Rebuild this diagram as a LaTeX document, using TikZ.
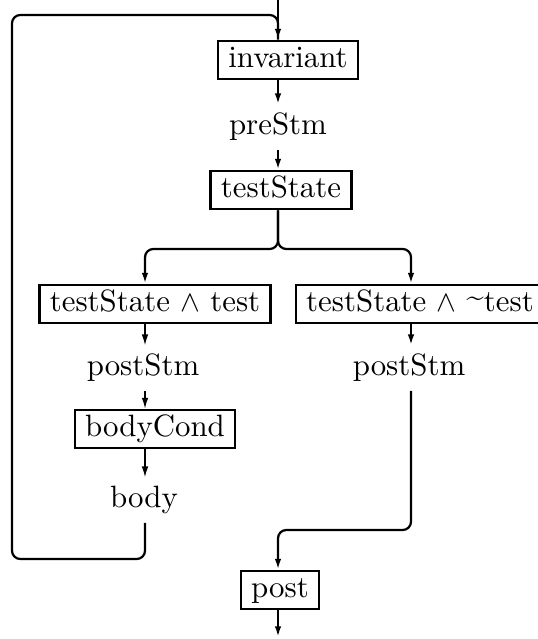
\documentclass[tikz,border=0pt]{standalone}
\usetikzlibrary{arrows.meta}
\tikzset{
  box/.style={draw,line width=0.8pt,inner xsep=3.5pt,inner ysep=2pt,
    font=\fontsize{10.4pt}{12pt}\selectfont,text height=7pt,text depth=2pt},
  lbl/.style={inner xsep=2pt,inner ysep=3pt,
    font=\fontsize{10.4pt}{12pt}\selectfont,text height=7pt,text depth=2pt},
  flow/.style={line width=0.75pt,-{Latex[length=3.6pt,width=2.2pt]}},
  thinflow/.style={line width=0.4pt,-{Latex[length=3.6pt,width=2.2pt]}},
  backline/.style={line width=0.75pt,rounded corners=2.8pt},
}
\begin{document}
\begin{tikzpicture}[x=0.337pt,y=-0.337pt]
\useasboundingbox (0,0) rectangle (537,639);
% the three columns
\coordinate (mc) at (278,0);
\coordinate (lc) at (145,249);
\coordinate (rc) at (411,249);
\coordinate (split) at (278,249);
\coordinate (join) at (278,530);
\coordinate (lb) at (12,559);
\coordinate (lt) at (12,15);
\coordinate (out) at (278,637);

\node[box] (inv) at (288,60) {invariant};
\node[lbl] (pre) at (278,127) {preStm};
\node[box] (ts) at (281,190) {testState};
\node[box] (tt) at (155,304) {testState $\wedge$ test};
\node[box] (tf) at (420,304) {testState $\wedge$ \raisebox{1.5pt}{\textasciitilde}test};
\node[lbl] (postl) at (143,368) {postStm};
\node[box] (bc) at (155,429) {bodyCond};
\node[lbl] (body) at (144,500) {body};
\node[lbl] (postr) at (409,368) {postStm};
\node[box] (post) at (280,590) {post};

\draw[flow] (mc) -- (mc |- inv.north);
\draw[flow] (mc |- inv.south) -- (mc |- pre.north);
\draw[flow] (mc |- pre.south) -- (mc |- ts.north);

% split into the two cases
\draw[flow,rounded corners=2.8pt] (mc |- ts.south) -- (split) -- (lc) -- (lc |- tt.north);
\draw[flow,rounded corners=2.8pt] (mc |- ts.south) -- (split) -- (rc) -- (rc |- tf.north);

% loop body
\draw[thinflow] (lc |- tt.south) -- (lc |- postl.north);
\draw[thinflow] (lc |- postl.south) -- (lc |- bc.north);
\draw[thinflow] (lc |- bc.south) -- (lc |- body.north);
\draw[backline] (lc |- body.south) -- (lc |- lb) -- (lb) -- (lt) -- (mc |- lt) -- (mc |- inv.north);

% exit
\draw[flow] (rc |- tf.south) -- (rc |- postr.north);
\draw[flow,rounded corners=2.8pt] (rc |- postr.south) -- (rc |- join) -- (join) -- (mc |- post.north);
\draw[flow] (mc |- post.south) -- (out);
\end{tikzpicture}
\end{document}
